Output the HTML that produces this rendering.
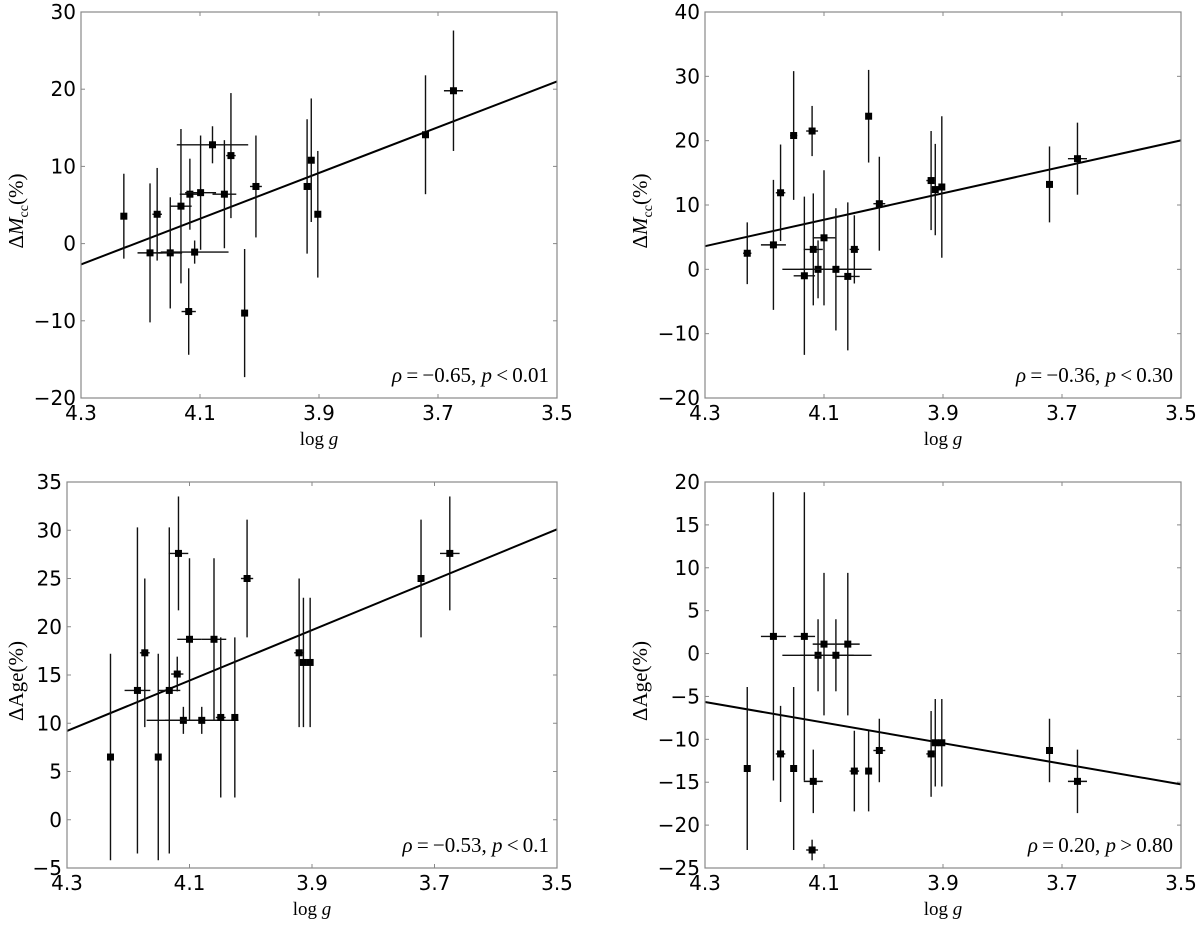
<!DOCTYPE html>
<html><head><meta charset="utf-8">
<style>
html,body{margin:0;padding:0;background:#fff;}
svg{display:block;}
.tick{font-family:"DejaVu Sans","Liberation Sans",sans-serif;font-size:20px;fill:#000;}
.ser{font-family:"Liberation Serif","DejaVu Serif",serif;fill:#000;}
</style></head>
<body>
<svg id="fig" width="1200" height="927" viewBox="0 0 1200 927" xmlns="http://www.w3.org/2000/svg"></svg>
<script>
// ---- Panel A: ΔMcc (left) ----
const aLogg = [4.228,4.184,4.172,4.150,4.132,4.119,4.117,4.109,4.099,4.079,4.059,4.048,4.025,4.006,3.920,3.913,3.902,3.721,3.674];
const aVal  = [3.55,-1.2,3.8,-1.2,4.85,-8.8,6.4,-1.1,6.6,12.8,6.4,11.4,-9.0,7.4,7.4,10.8,3.8,14.1,19.8];
const aYErr = [5.5,9.0,6.0,7.2,10.0,5.6,4.6,1.5,7.4,2.4,7.0,8.1,8.3,6.6,8.7,8.0,8.2,7.7,7.8];
const aXErr = [0.005,0.021,0.008,0.02,0.018,0.012,0.017,0.057,0.026,0.06,0.02,0.008,0.005,0.01,0.005,0.005,0.005,0.003,0.016];
const aFit  = [-2.7,21.0];
const aTicks = [-20,-10,0,10,20,30];
// ---- Panel B: ΔMcc (right) ----
const bLogg = [4.229,4.185,4.173,4.151,4.133,4.120,4.118,4.110,4.100,4.080,4.060,4.049,4.025,4.007,3.920,3.913,3.902,3.721,3.674];
const bVal  = [2.5,3.8,11.9,20.8,-1.0,21.5,3.1,0,4.9,0,-1.1,3.1,23.8,10.2,13.8,12.4,12.8,13.2,17.2];
const bYErr = [4.8,10.1,7.5,10.0,12.3,3.9,8.7,4.5,10.5,9.5,11.5,5.3,7.2,7.3,7.7,7.1,11.0,5.9,5.6];
const bXErr = [0.007,0.021,0.008,0.006,0.018,0.01,0.016,0.06,0.019,0.06,0.02,0.008,0.005,0.01,0.008,0.004,0.004,0.003,0.016];
const bFit  = [3.6,20.05];
const bTicks = [-20,-10,0,10,20,30,40];
// ---- Panel C: ΔAge (left) ----
const cLogg = [4.229,4.185,4.173,4.151,4.133,4.120,4.118,4.110,4.100,4.080,4.060,4.049,4.026,4.006,3.921,3.914,3.903,3.722,3.675];
const cVal  = [6.5,13.4,17.3,6.5,13.4,15.1,27.6,10.3,18.7,10.3,18.7,10.6,10.6,25.0,17.3,16.3,16.3,25.0,27.6];
const cYErr = [10.7,16.9,7.7,10.7,16.9,1.8,5.9,1.4,8.4,1.4,8.4,8.3,8.3,6.1,7.7,6.7,6.7,6.1,5.9];
const cXErr = [0.005,0.021,0.008,0.005,0.018,0.01,0.016,0.06,0.02,0.06,0.02,0.008,0.005,0.01,0.008,0.004,0.004,0.003,0.016];
const cFit  = [9.2,30.1];
const cTicks = [-5,0,5,10,15,20,25,30,35];
// ---- Panel D: ΔAge (right) ----
const dLogg = [4.229,4.185,4.173,4.151,4.133,4.120,4.118,4.110,4.100,4.080,4.060,4.049,4.025,4.007,3.920,3.913,3.902,3.721,3.674];
const dVal  = [-13.4,2.0,-11.7,-13.4,2.0,-22.9,-14.9,-0.2,1.1,-0.2,1.1,-13.7,-13.7,-11.3,-11.7,-10.4,-10.4,-11.3,-14.9];
const dYErr = [9.5,16.8,5.6,9.5,16.8,1.2,3.7,4.2,8.3,4.2,8.3,4.7,4.7,3.7,5.0,5.1,5.1,3.7,3.7];
const dXErr = [0.005,0.021,0.008,0.005,0.018,0.01,0.016,0.06,0.019,0.06,0.02,0.008,0.005,0.01,0.008,0.004,0.004,0.003,0.016];
const dFit  = [-5.65,-15.25];
const dTicks = [-25,-20,-15,-10,-5,0,5,10,15,20];
const xTicks = [4.3,4.1,3.9,3.7,3.5];

const NS = "http://www.w3.org/2000/svg";
const svg = document.getElementById('fig');
function mk(tag, attrs, parent){
  const e = document.createElementNS(NS, tag);
  for (const k in attrs) e.setAttribute(k, attrs[k]);
  (parent||svg).appendChild(e);
  return e;
}
function fmt(v, dec){ const s = v.toFixed(dec); return s.replace('-', '\u2212'); }

function panel(cfg){
  const g = mk('g', {});
  
  
  const L=cfg.L, R=cfg.R, T=cfg.T, B=cfg.B;
  const xs = v => L + (4.3 - v) / 0.8 * (R - L);
  const ys = v => B - (v - cfg.ymin) / (cfg.ymax - cfg.ymin) * (B - T);
  cfg.yticks.forEach(t => {
    const y = ys(t);
    const tl = mk('line', {x1:L, x2:L+4, y1:y, y2:y, stroke:'#888','stroke-width':1}, g);
    
    
    mk('line', {x1:R-4, x2:R, y1:y, y2:y, stroke:'#888','stroke-width':1}, g);
    const tx = mk('text', {x:L-5, y:y+7, 'text-anchor':'end', class:'tick'}, g);
    tx.textContent = fmt(t, 0);
    
    
  });
  xTicks.forEach(t => {
    const x = xs(t);
    mk('line', {x1:x, x2:x, y1:B, y2:B-4, stroke:'#888','stroke-width':1}, g);
    mk('line', {x1:x, x2:x, y1:T, y2:T+4, stroke:'#888','stroke-width':1}, g);
    const tx = mk('text', {x:x, y:B+22, 'text-anchor':'middle', class:'tick'}, g);
    tx.textContent = t.toFixed(1);
    
    
  });
  const fl = mk('line', {x1:L, y1:ys(cfg.fit[0]), x2:R, y2:ys(cfg.fit[1]), stroke:'#000','stroke-width':2}, g);
  
  
  for (let i=0;i<cfg.x.length;i++){
    const cx = xs(cfg.x[i]), cy = ys(cfg.y[i]);
    const pg = mk('g', {}, g);
    
    
    mk('line', {x1:cx, x2:cx, y1:ys(cfg.y[i]+cfg.ye[i]), y2:ys(cfg.y[i]-cfg.ye[i]), stroke:'#111','stroke-width':1.4}, pg);
    mk('line', {x1:xs(cfg.x[i]+cfg.xe[i]), x2:xs(cfg.x[i]-cfg.xe[i]), y1:cy, y2:cy, stroke:'#111','stroke-width':1.4}, pg);
    mk('rect', {x:cx-3.5, y:cy-3.5, width:7, height:7, fill:'#000'}, pg);
  }
  const fr = mk('rect', {x:L, y:T, width:R-L, height:B-T, fill:'none', stroke:'#888','stroke-width':1.2}, g);
  
  
  const an = mk('text', {x:R-8, y:B-16, 'text-anchor':'end', class:'ser', 'font-size':'21px'}, g);
  
  
  an.innerHTML = '<tspan font-style="italic">ρ</tspan>\u2009=\u2009' + cfg.rho + ', <tspan font-style="italic">p</tspan>\u2009' + cfg.pop + '\u2009' + cfg.pval;
  const xl = mk('text', {x:(L+R)/2, y:B+47, 'text-anchor':'middle', class:'ser', 'font-size':'19px'}, g);
  
  
  xl.innerHTML = 'log <tspan font-style="italic">g</tspan>';
  const yc = (T+B)/2 + 6;
  const yl = mk('text', {x:0, y:0, 'text-anchor':'middle', class:'ser', 'font-size':'21px', transform:'translate(' + cfg.ylx + ',' + yc + ') rotate(-90)'}, g);
  
  
  yl.innerHTML = cfg.ylabel;
}

const mccLabel = 'Δ<tspan font-style="italic">M</tspan><tspan font-size="14px" dy="5">cc</tspan><tspan dy="-5">(%)</tspan>';
const ageLabel = 'ΔAge(%)';

panel({name:'panel-mcc-left', L:81, R:557, T:12, B:398, ymin:-20, ymax:30, yticks:aTicks,
  x:aLogg, y:aVal, ye:aYErr, xe:aXErr, fit:aFit, rho:'\u22120.65', pop:'<', pval:'0.01', ylx:23, ylabel:mccLabel});
panel({name:'panel-mcc-right', L:705, R:1181, T:12, B:398, ymin:-20, ymax:40, yticks:bTicks,
  x:bLogg, y:bVal, ye:bYErr, xe:bXErr, fit:bFit, rho:'\u22120.36', pop:'<', pval:'0.30', ylx:647, ylabel:mccLabel});
panel({name:'panel-age-left', L:67, R:557, T:482, B:868, ymin:-5, ymax:35, yticks:cTicks,
  x:cLogg, y:cVal, ye:cYErr, xe:cXErr, fit:cFit, rho:'\u22120.53', pop:'<', pval:'0.1', ylx:23, ylabel:ageLabel});
panel({name:'panel-age-right', L:705, R:1181, T:482, B:868, ymin:-25, ymax:20, yticks:dTicks,
  x:dLogg, y:dVal, ye:dYErr, xe:dXErr, fit:dFit, rho:'0.20', pop:'>', pval:'0.80', ylx:647, ylabel:ageLabel});
</script>
</body></html>
